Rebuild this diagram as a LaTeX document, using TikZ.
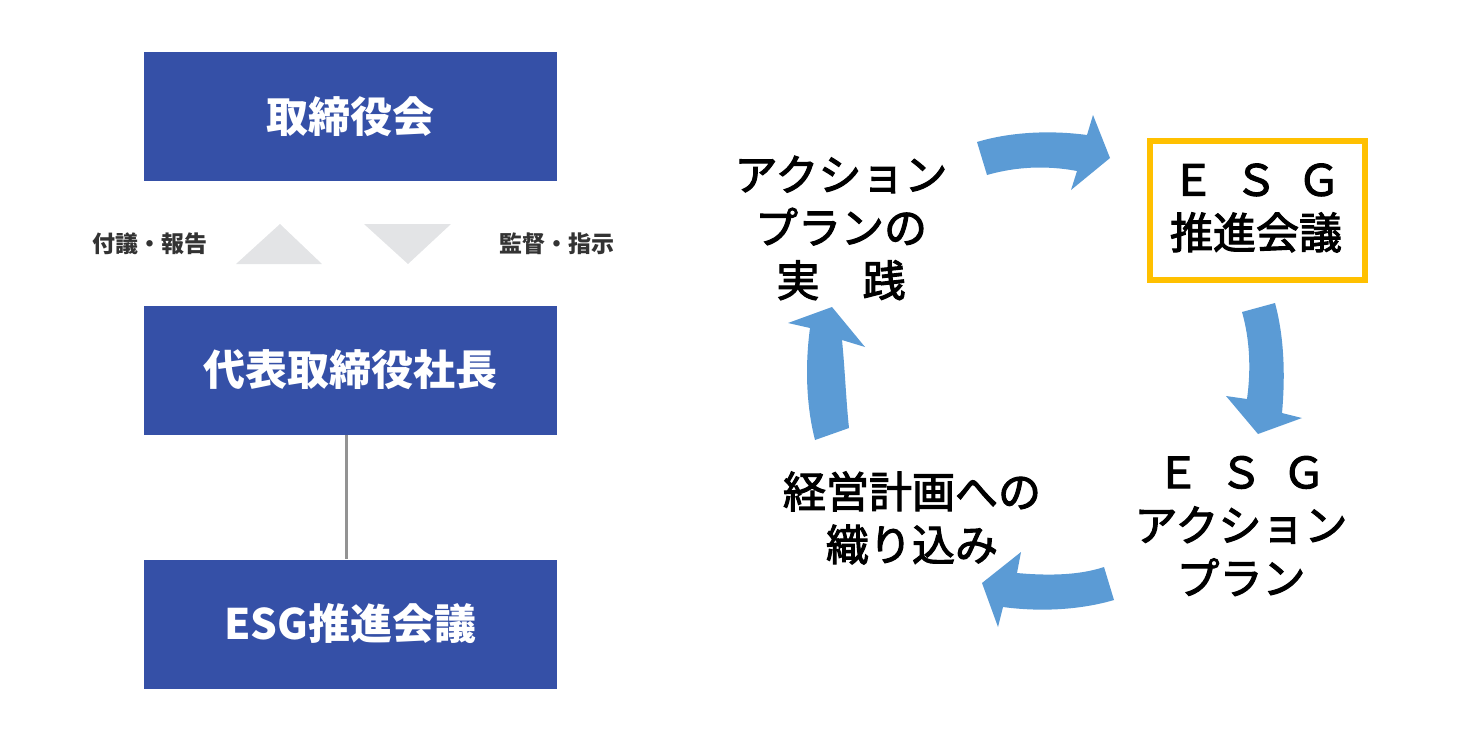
\documentclass[tikz,border=0pt]{standalone}
\usepackage{fontspec}
\setmainfont{Noto Sans CJK JP}
\newfontfamily\jp{Noto Sans CJK JP}
\newfontfamily\jpm{Noto Sans CJK JP}[FakeBold=2.5]
\definecolor{boxblue}{HTML}{3550A7}
\definecolor{arrblue}{HTML}{5B9BD5}
\definecolor{tri}{HTML}{E3E4E6}
\definecolor{esgy}{HTML}{FFC000}
\definecolor{lbl}{HTML}{333333}
\tikzset{
  bluebox/.style={fill=boxblue, minimum width=413pt, minimum height=129pt, inner sep=0pt,
    text=white, font=\jp\bfseries\fontsize{42}{48}\selectfont},
  smalllbl/.style={text=lbl, inner sep=0pt, font=\jp\bfseries\fontsize{23}{26}\selectfont},
  cyctext/.style={align=center, inner sep=0pt, text=black, font=\jpm\fontsize{43}{53}\selectfont},
  blockarrow/.style={fill=arrblue, draw=none}
}
\begin{document}
\begin{tikzpicture}[x=1pt,y=-1pt]
\useasboundingbox (0,0) rectangle (1480,740);
% left boxes
\node[bluebox] (b1) at (350.5,116.5) {取締役会};
\node[bluebox] (b2) at (350.5,370) {代表取締役社長};
\node[bluebox] (b3) at (350.5,624) {ESG推進会議};
\draw[line width=3pt, color=gray!85] ([xshift=-4pt]b2.south) -- ([xshift=-4pt]b3.north);
% triangles
\fill[tri] (280,224) -- (322,264) -- (236,264) -- cycle;
\fill[tri] (364,224) -- (451,224) -- (408,264) -- cycle;
\node[smalllbl] (l1) at (150,244) {付議・報告};
\node[smalllbl] (l2) at (557,244) {監督・指示};
% right cycle
\node[draw=esgy, line width=6pt, minimum width=215pt, minimum height=139pt, inner sep=0pt] (esg) at (1257.5,210.5) {};
\node[cyctext] (esgt) at (1256,208) {Ｅ\hspace{20pt}Ｓ\hspace{20pt}Ｇ\\推進会議};
\node[cyctext] (act) at (1241,526) {Ｅ\hspace{20pt}Ｓ\hspace{20pt}Ｇ\\アクション\\プラン};
\node[cyctext] (plan) at (912,518) {経営計画への\\織り込み};
\node[cyctext] (exec) at (841,228) {アクション\\プランの\\実\hspace{43pt}践};
% block arrows
\fill[blockarrow] (977,142) .. controls (1010,132) and (1050,130) .. (1087,135) -- (1093,115) -- (1110,158) -- (1071,190) -- (1077,171) .. controls (1045,165) and (1015,167) .. (987,175) -- cycle;
\fill[blockarrow] (1242,312) -- (1275,303) .. controls (1285,340) and (1285,380) .. (1282,413) -- (1302,418) -- (1258,434) -- (1226,396) -- (1247,399) .. controls (1251,370) and (1250,340) .. (1242,312) -- cycle;
\fill[blockarrow] (1104,567) .. controls (1080,575) and (1050,576) .. (1017,573) -- (1021,552) -- (982,583) -- (998,627) -- (1003,607) .. controls (1040,612) and (1080,610) .. (1114,600) -- cycle;
\fill[blockarrow] (815,440) -- (849,428) .. controls (846,400) and (845,370) .. (842,340) -- (865,347) -- (832,307) -- (788,323) -- (810,328) .. controls (805,365) and (806,405) .. (815,440) -- cycle;
\end{tikzpicture}
\end{document}
